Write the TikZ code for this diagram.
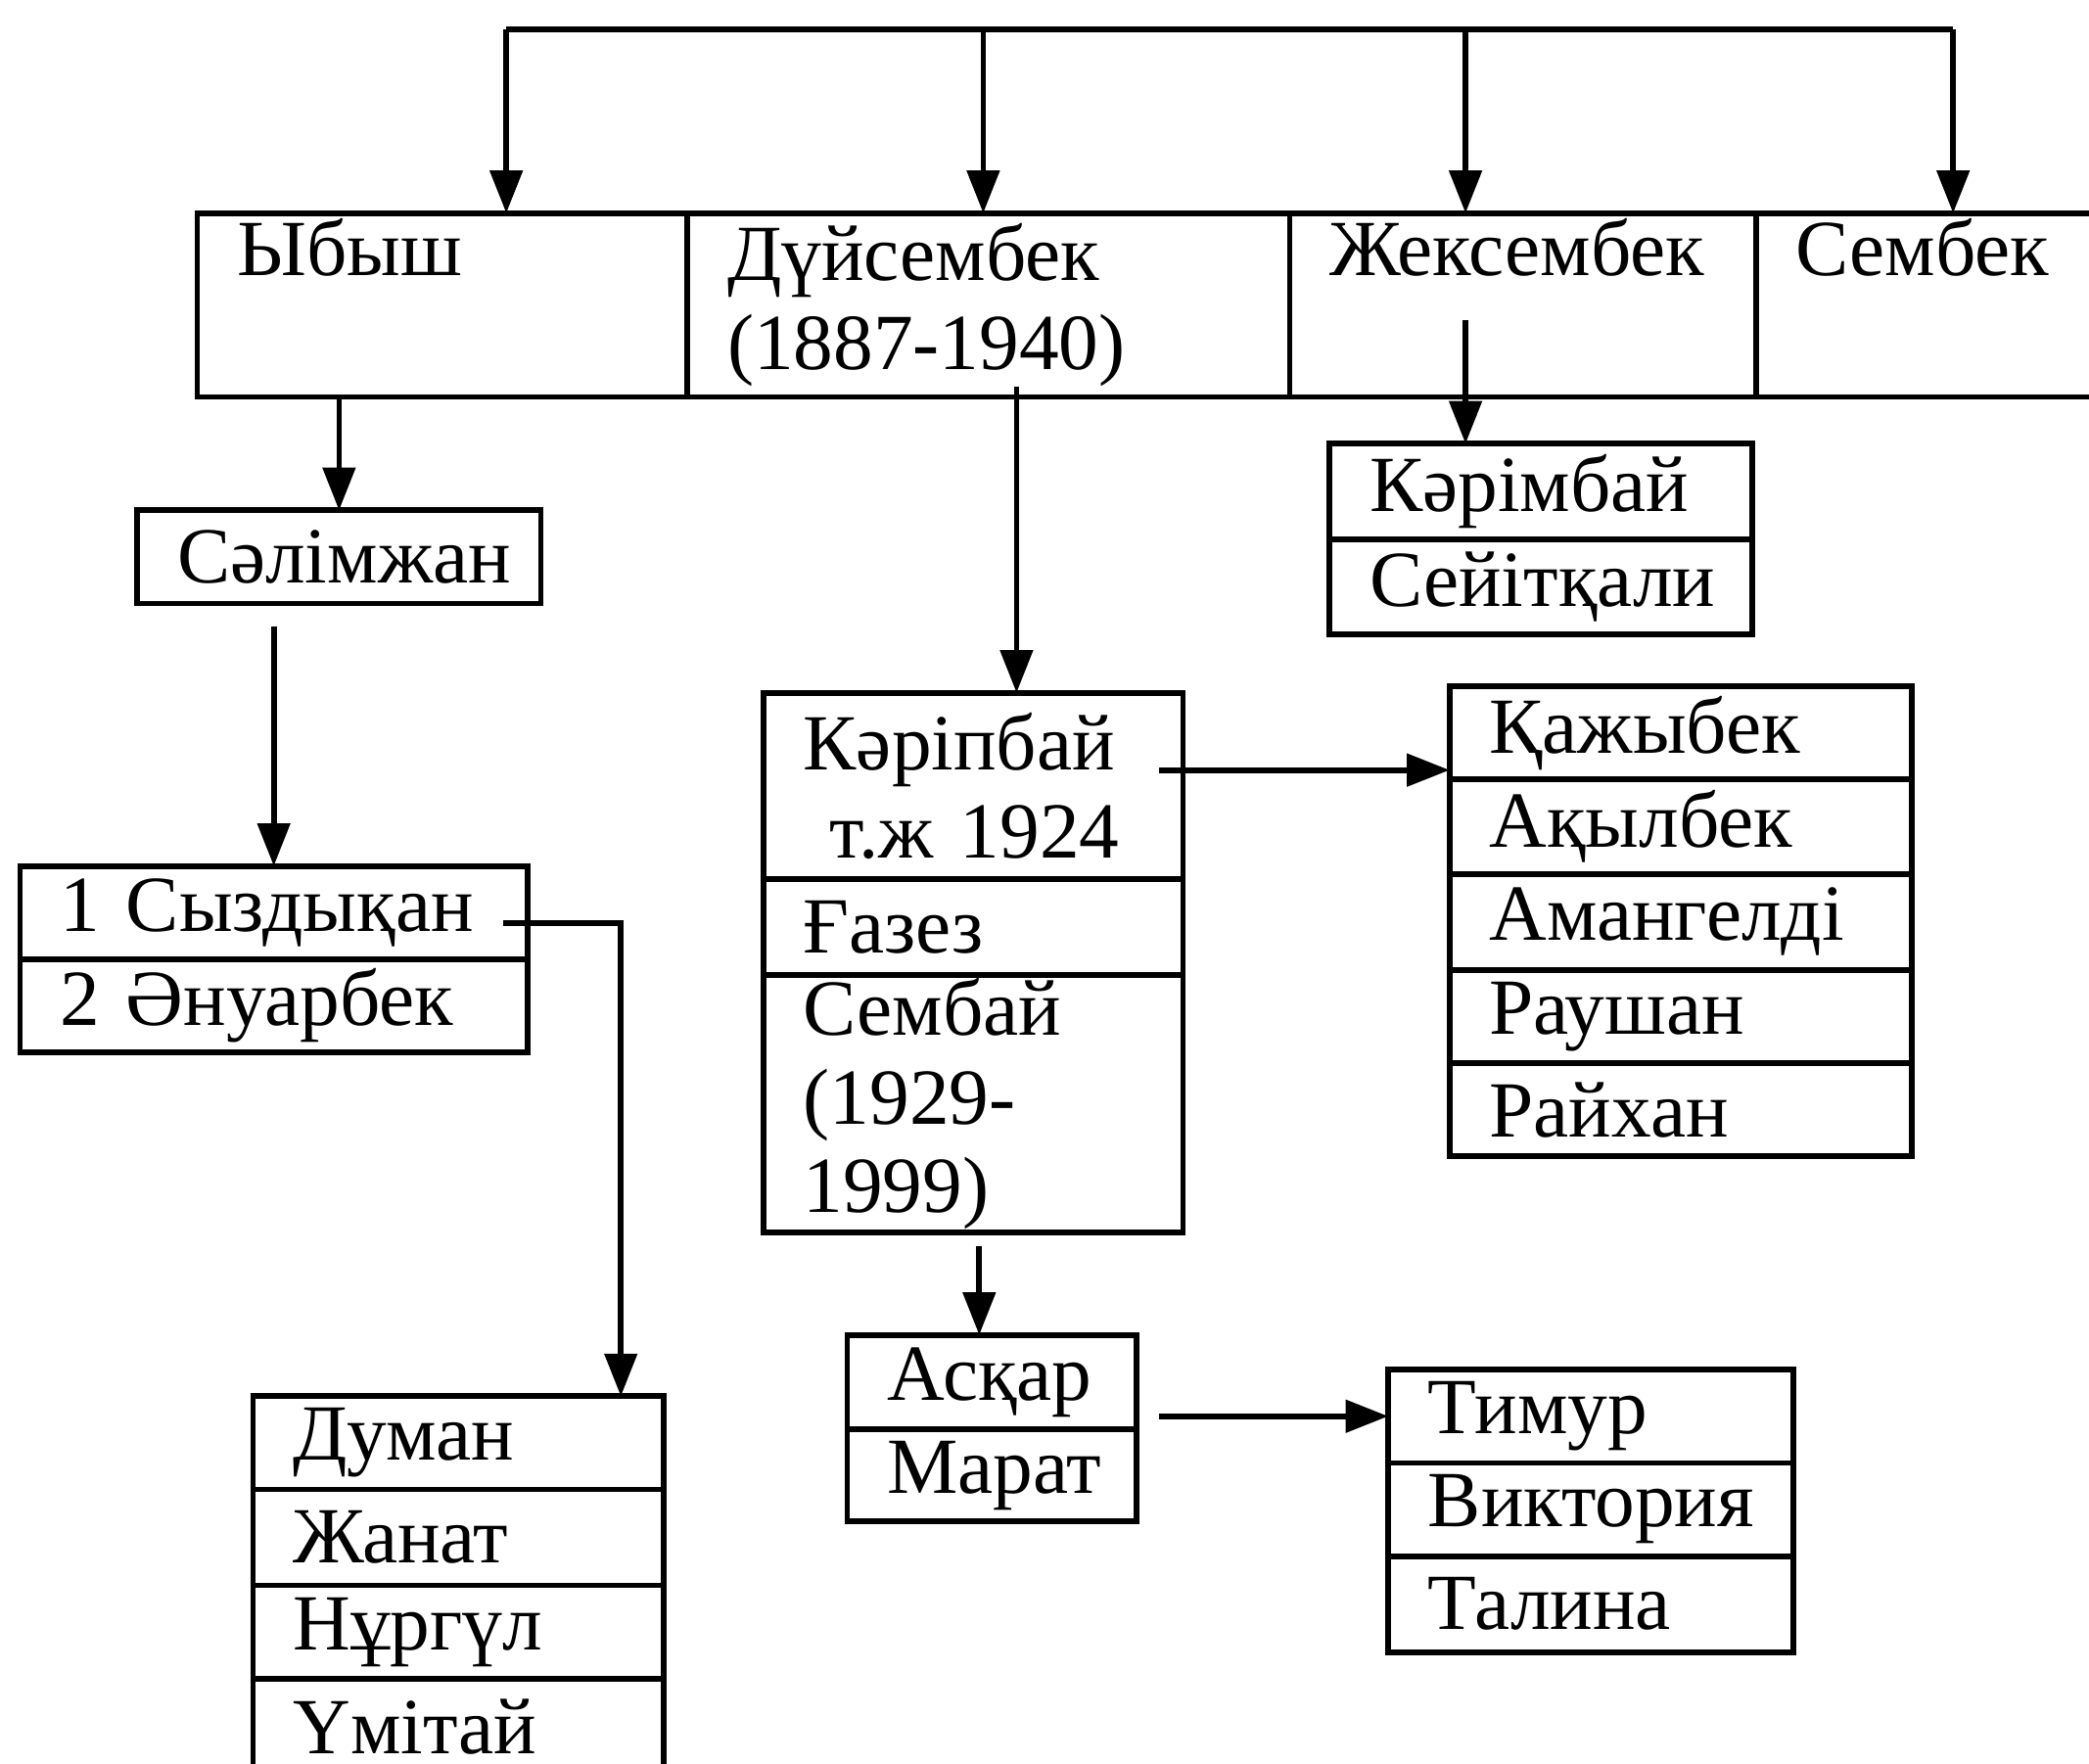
\documentclass[tikz,border=0pt]{standalone}
\usepackage{fontspec}
\setmainfont{Liberation Serif}
\usetikzlibrary{arrows.meta,calc}

\begin{document}
\begin{tikzpicture}[
  cell/.style={draw, line width=1.2pt, anchor=north west, outer sep=0pt, inner xsep=0.3cm, inner ysep=0pt, align=left, font=\fontsize{17}{19}\selectfont},
  arr/.style={line width=1.2pt, -{Triangle[length=0.32cm,width=0.24cm]}}
  ]
\useasboundingbox (0,0) rectangle (15.68,-13.24);
% first row
\node[cell, text width=3.08cm, minimum height=1.38cm] (YB) at (1.48,-1.60) {Ыбыш\\ \strut};
\node[cell, text width=3.92cm, minimum height=1.38cm] (DU) at (YB.north east) {Дүйсембек\\(1887-1940)};
\node[cell, text width=2.90cm, minimum height=1.38cm] (ZH) at (DU.north east) {Жексембек\\ \strut};
\node[cell, text width=2.02cm, minimum height=1.38cm] (SE) at (ZH.north east) {Сембек\\ \strut};
% Ybysh line
\node[cell, text width=2.43cm, minimum height=0.70cm] (SA) at (1.03,-3.83) {Сәлімжан};
\node[cell, text width=3.21cm, minimum height=0.70cm] (SY1) at (0.15,-6.50) {1 Сыздықан};
\node[cell, text width=3.21cm, minimum height=0.70cm] (SY2) at (SY1.south west) {2 Әнуарбек};
\node[cell, text width=2.48cm, minimum height=0.70cm] (DM1) at (1.90,-10.48) {Думан};
\node[cell, text width=2.48cm, minimum height=0.72cm] (DM2) at (DM1.south west) {Жанат};
\node[cell, text width=2.48cm, minimum height=0.70cm] (DM3) at (DM2.south west) {Нұргүл};
\node[cell, text width=2.48cm, minimum height=0.72cm] (DM4) at (DM3.south west) {Үмітай};
% Duisembek line
\node[cell, text width=2.55cm, minimum height=1.40cm] (KP1) at (5.73,-5.20) {Кәріпбай\\~т.ж 1924};
\node[cell, text width=2.55cm, minimum height=0.72cm] (KP2) at (KP1.south west) {Ғазез};
\node[cell, text width=2.55cm, minimum height=1.93cm] (KP3) at (KP2.south west) {Сембай\\(1929-\\1999)};
\node[cell, text width=2.87cm, minimum height=0.70cm] (QZ1) at (10.88,-5.15) {Қажыбек};
\node[cell, text width=2.87cm, minimum height=0.71cm] (QZ2) at (QZ1.south west) {Ақылбек};
\node[cell, text width=2.87cm, minimum height=0.72cm] (QZ3) at (QZ2.south west) {Амангелді};
\node[cell, text width=2.87cm, minimum height=0.70cm] (QZ4) at (QZ3.south west) {Раушан};
\node[cell, text width=2.87cm, minimum height=0.70cm] (QZ5) at (QZ4.south west) {Райхан};
\node[cell, text width=1.57cm, minimum height=0.71cm] (AS1) at (6.36,-10.02) {Асқар};
\node[cell, text width=1.57cm, minimum height=0.69cm] (AS2) at (AS1.south west) {Марат};
\node[cell, text width=2.44cm, minimum height=0.70cm] (TM1) at (10.42,-10.28) {Тимур};
\node[cell, text width=2.44cm, minimum height=0.70cm] (TM2) at (TM1.south west) {Виктория};
\node[cell, text width=2.44cm, minimum height=0.72cm] (TM3) at (TM2.south west) {Талина};
% Zheksembek line
\node[cell, text width=2.57cm, minimum height=0.72cm] (KM1) at (9.98,-3.33) {Кәрімбай};
\node[cell, text width=2.57cm, minimum height=0.71cm] (KM2) at (KM1.south west) {Сейітқали};
% connectors
\coordinate (ta) at (3.80,-0.22);
\coordinate (tb) at (7.38,-0.22);
\coordinate (tc) at (11.00,-0.22);
\coordinate (td) at (14.66,-0.22);
\draw[line width=1.2pt] (ta) -- (td);
\path[arr]
  (ta) edge (ta |- YB.north)
  (tb) edge (tb |- DU.north)
  (tc) edge (tc |- ZH.north)
  (td) edge (td |- SE.north);
\coordinate (cd) at (7.63,-2.90);
\coordinate (cz) at (11.00,-2.40);
\coordinate (ck) at (8.70,-5.78);
\coordinate (ca) at (7.35,-9.35);
\coordinate (cm) at (8.70,-10.63);
\coordinate (cs) at (3.78,-6.93);
\path[arr]
  (YB.south -| SA.north) edge (SA.north)
  ($(SA.south -| SY1.north)+(0,-0.17)$) edge (SY1.north)
  (cd) edge (cd |- KP1.north)
  (cz) edge (cz |- KM1.north)
  (ck) edge (ck -| QZ1.west)
  (ca) edge (ca |- AS1.north)
  (cm) edge (cm -| TM1.west);
\draw[arr] (cs) -| ([xshift=1.22cm]DM1.north);
\end{tikzpicture}
\end{document}
